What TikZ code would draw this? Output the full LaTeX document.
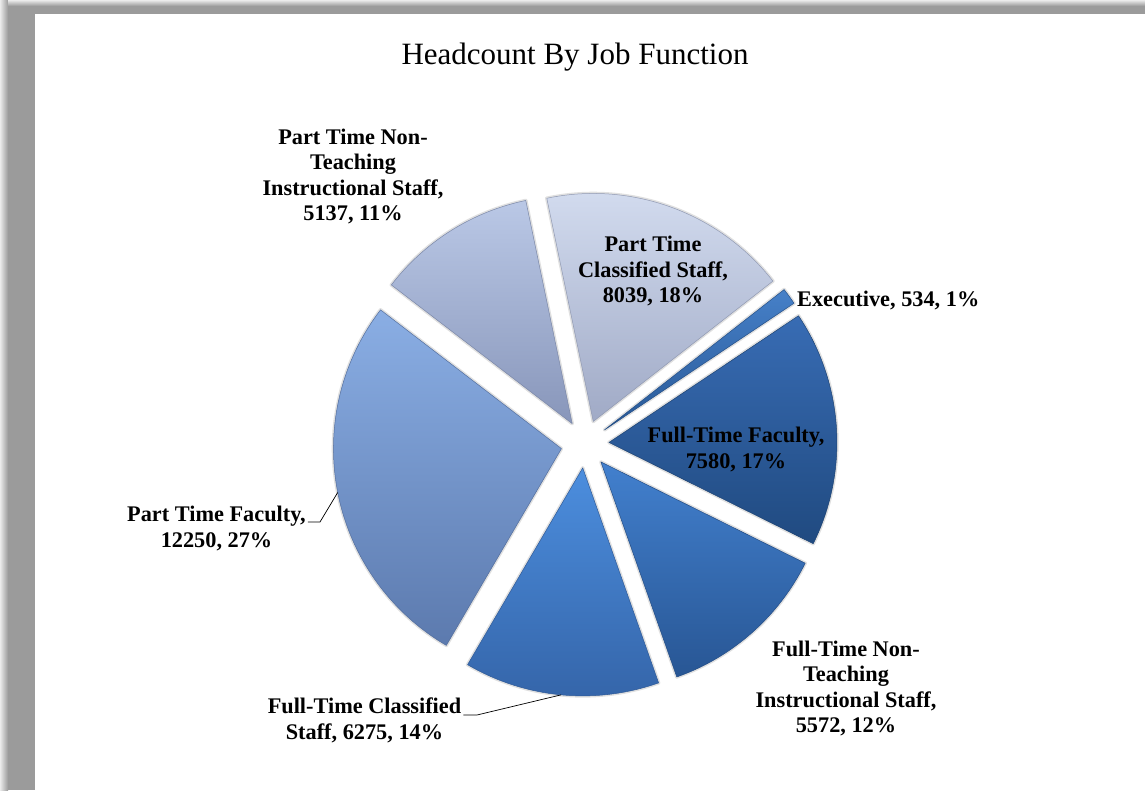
\documentclass[tikz,border=0pt]{standalone}
\usepackage{fontspec}
\setmainfont{Liberation Serif}
\usetikzlibrary{calc}
\definecolor{framegray}{RGB}{155,155,155}
\definecolor{ptctop}{RGB}{212,221,240}
\definecolor{ptcbot}{RGB}{160,170,198}
\definecolor{ptnttop}{RGB}{186,200,230}
\definecolor{ptntbot}{RGB}{136,150,186}
\definecolor{ptftop}{RGB}{138,174,228}
\definecolor{ptfbot}{RGB}{92,122,174}
\definecolor{ftctop}{RGB}{76,142,222}
\definecolor{ftcbot}{RGB}{52,100,168}
\definecolor{ftnttop}{RGB}{66,128,206}
\definecolor{ftntbot}{RGB}{40,86,148}
\definecolor{ftftop}{RGB}{56,108,180}
\definecolor{ftfbot}{RGB}{32,74,128}
\definecolor{exectop}{RGB}{70,128,200}
\definecolor{execbot}{RGB}{40,88,150}
\begin{document}
\begin{tikzpicture}[x=1pt,y=1pt,
    slice/.style 2 args={top color=#1,bottom color=#2,draw=#2!90!black,line width=0.5pt,line join=round,
      preaction={draw=black!12,line width=3.5pt,line join=round}},
    lbl/.style={font=\fontsize{22.3}{25.5}\selectfont\bfseries,align=center,inner sep=2pt},
    leader/.style={draw=black,line width=0.7pt}]
    \useasboundingbox (0,0) rectangle (1145,790);
    \fill[framegray] (0,0) rectangle (1145,790);
    \fill[left color=white!80!framegray,right color=framegray] (0,0) rectangle (8,790);
    \fill[top color=white!80!framegray,bottom color=framegray] (8,784) rectangle (1145,790);
    \fill[white] (35,0) rectangle (1145,776);
    \node[font=\fontsize{31}{36}\selectfont] (title) at (575,733) {Headcount By Job Function};
    \coordinate (ctr) at (585,346);
    \path[slice={ptctop}{ptcbot}] ($(ctr)+(-290.12:24)$) -- +(-322:228) arc[start angle=-322,end angle=-258.24,radius=228] -- cycle;
    \path[slice={ptnttop}{ptntbot}] ($(ctr)+(-237.87:24)$) -- +(-258.24:228) arc[start angle=-258.24,end angle=-217.49,radius=228] -- cycle;
    \path[slice={ptftop}{ptfbot}] ($(ctr)+(-168.91:24)$) -- +(-217.49:228) arc[start angle=-217.49,end angle=-120.33,radius=228] -- cycle;
    \path[slice={ftctop}{ftcbot}] ($(ctr)+(-95.44:24)$) -- +(-120.33:228) arc[start angle=-120.33,end angle=-70.56,radius=228] -- cycle;
    \path[slice={ftnttop}{ftntbot}] ($(ctr)+(-48.46:24)$) -- +(-70.56:228) arc[start angle=-70.56,end angle=-26.36,radius=228] -- cycle;
    \path[slice={ftftop}{ftfbot}] ($(ctr)+(3.70:24)$) -- +(-26.36:228) arc[start angle=-26.36,end angle=33.76,radius=228] -- cycle;
    \path[slice={exectop}{execbot}] ($(ctr)+(35.88:24)$) -- +(33.76:228) arc[start angle=33.76,end angle=38,radius=228] -- cycle;
    \coordinate (ptfend) at ($(ctr)+(-168.91:252)$);
    \coordinate (ftcend) at ($(ctr)+(-95.44:252)$);
    \node[lbl] (ptntlbl) at (353,613.5) {Part Time Non-\\Teaching\\Instructional Staff,\\5137, 11\%};
    \node[lbl] (ptclbl) at (653,519) {Part Time\\Classified Staff,\\8039, 18\%};
    \node[lbl,anchor=west] (execlbl) at (795,490) {Executive, 534, 1\%};
    \node[lbl] (ftflbl) at (736,340.5) {Full-Time Faculty,\\7580, 17\%};
    \node[lbl] (ftntlbl) at (846,101.5) {Full-Time Non-\\Teaching\\Instructional Staff,\\5572, 12\%};
    \node[lbl] (ftclbl) at (364.5,69.5) {Full-Time Classified\\Staff, 6275, 14\%};
    \node[lbl] (ptflbl) at (216.5,261.5) {Part Time Faculty,\\12250, 27\%};
    \coordinate (ptfknee) at (320,268);
    \coordinate (ftcknee) at (477,75);
    \draw[leader] (ptflbl.east |- ptfknee) -- (ptfknee) -- (ptfend);
    \draw[leader] (ftclbl.east |- ftcknee) -- (ftcknee) -- (ftcend);
\end{tikzpicture}
\end{document}
